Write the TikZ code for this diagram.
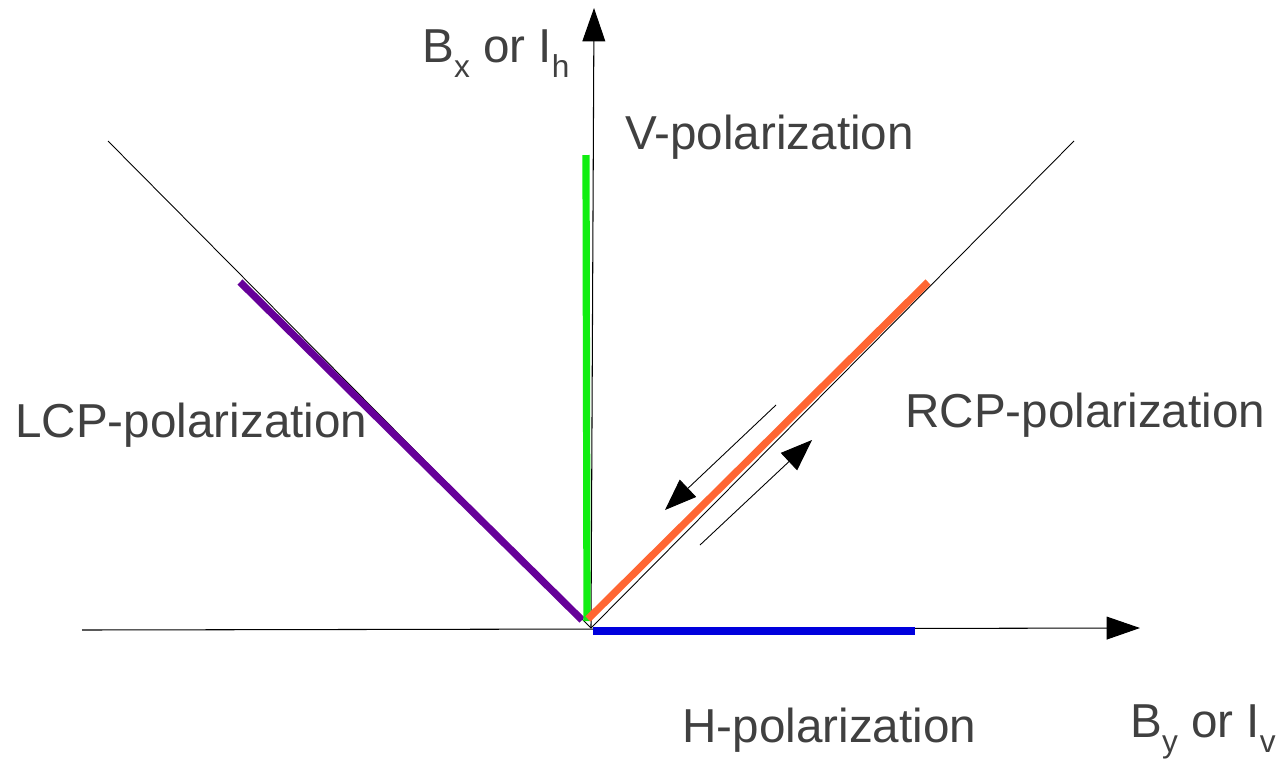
\documentclass[tikz,border=0pt]{standalone}
\usepackage{fontspec}
\setmainfont{Liberation Sans}
\usetikzlibrary{arrows.meta}
\definecolor{txtgray}{HTML}{404040}
\definecolor{lcpcol}{HTML}{660099}
\definecolor{vcol}{HTML}{11EE11}
\definecolor{rcpcol}{HTML}{FF6633}
\definecolor{hcol}{HTML}{0000DD}
\newcommand{\lowsub}[1]{\raisebox{-0.32em}{\fontsize{18}{20}\selectfont #1}}
\begin{document}
\begin{tikzpicture}[x=0.02cm,y=-0.02cm,
    axis/.style={line width=0.6pt,-{Triangle[length=19pt,width=13pt]}},
    guide/.style={line width=0.5pt},
    pol/.style={line width=4.1pt},
    flow/.style={line width=0.5pt,-{Triangle[length=18pt,width=13.5pt]}},
    lbl/.style={text=txtgray,font=\fontsize{27.1}{32}\selectfont,inner sep=0pt,anchor=base west}]
\useasboundingbox (0,0) rectangle (1278,758);
% axes
\coordinate (O) at (591,628);
\coordinate (xl) at (82,630);
\coordinate (xr) at (1140,628);
\coordinate (yt) at (594,8);
\draw[axis] (xl)--(xr);
\draw[axis] (O)--(yt);
% guides
\coordinate (gl) at (108,141);
\coordinate (gr) at (1074,141);
\draw[guide] (O)--(gl) (O)--(gr);
% polarization lines
\coordinate (lcpA) at (240,282);
\coordinate (lcpB) at (582,620);
\coordinate (vA) at (586,155);
\coordinate (vB) at (587,621);
\coordinate (rcpA) at (588,619);
\coordinate (rcpB) at (928,282);
\coordinate (hA) at (593,631);
\coordinate (hB) at (915,631);
\draw[pol,lcpcol] (lcpA)--(lcpB);
\draw[pol,vcol] (vA)--(vB);
\draw[pol,rcpcol] (rcpA)--(rcpB);
\draw[pol,hcol] (hA)--(hB);
% arrows along RCP
\coordinate (dnA) at (776,405);
\coordinate (dnB) at (665,510);
\coordinate (upA) at (700,545);
\coordinate (upB) at (812,440);
\draw[flow] (dnA)--(dnB);
\draw[flow] (upA)--(upB);
% labels
\node[lbl] (bx) at (422,62) {B\lowsub{x} or I\lowsub{h}};
\node[lbl] (vpol) at (625,149) {V-polarization};
\node[lbl] (lcp) at (15,437) {LCP-polarization};
\node[lbl] (rcp) at (905,427) {RCP-polarization};
\node[lbl] (hpol) at (682,742) {H-polarization};
\node[lbl] (by) at (1130,737) {B\lowsub{y} or I\lowsub{v}};
\end{tikzpicture}
\end{document}
